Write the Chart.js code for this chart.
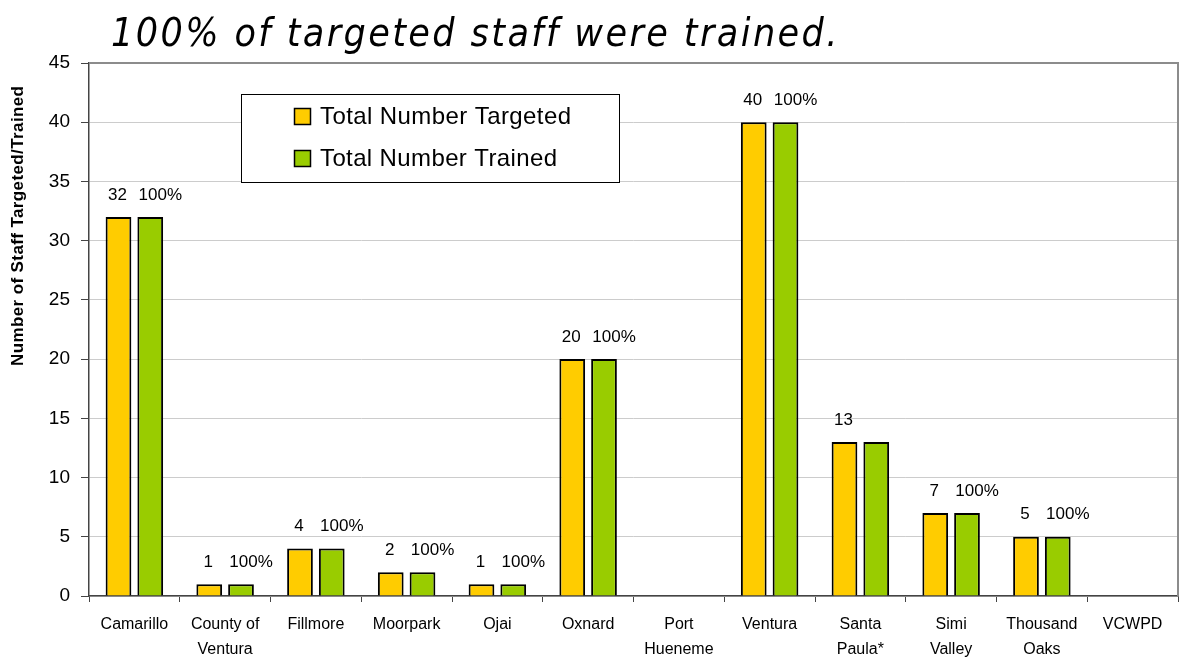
<!DOCTYPE html>
<html>
<head>
<meta charset="utf-8">
<title>Staff Training</title>
<script src="https://cdn.jsdelivr.net/npm/chart.js@4.4.1/dist/chart.umd.min.js"></script>
<style>
    html, body { margin: 0; padding: 0; background: #fff; }
    #chart { display: block; }
</style>
</head>
<body>
<canvas id="chart" width="1185" height="660"></canvas>
<script>
// Agencies along the x axis (multi-line labels)
const categories = [
    ['Camarillo'], ['County of', 'Ventura'], ['Fillmore'], ['Moorpark'], ['Ojai'],
    ['Oxnard'], ['Port', 'Hueneme'], ['Ventura'], ['Santa', 'Paula*'],
    ['Simi', 'Valley'], ['Thousand', 'Oaks'], ['VCWPD']
];
const targeted = [32, 1, 4, 2, 1, 20, null, 40, 13, 7, 5, null];
const trained = [32, 1, 4, 2, 1, 20, null, 40, 13, 7, 5, null];
const trainedPct = ['100%', '100%', '100%', '100%', '100%', '100%', '', '100%', '', '100%', '100%', ''];
const yMax = 45;
const yStep = 5;

const titleText = '100% of targeted staff were trained.';
const yTitleText = 'Number of Staff Targeted/Trained';
const FONT = '"Liberation Sans", Arial, sans-serif';

// draw text stretched to a given width with letter spacing
function fitText(ctx, text, x, y, width) {
    const w = ctx.measureText(text).width;
    ctx.letterSpacing = ((width - w) / (text.length - 1)) + 'px';
    ctx.fillText(text, x, y);
    ctx.letterSpacing = '0px';
}

// Title, axis title, plot frame, value labels and boxed legend
const decorations = {
    id: 'decorations',
    afterDatasetsDraw(chart) {
        const ctx = chart.ctx;
        const area = chart.chartArea;

        // gray frame on top and right of the plot
        ctx.save();
        ctx.strokeStyle = '#8c8c8c';
        ctx.lineWidth = 2;
        ctx.beginPath();
        ctx.moveTo(area.left, area.top);
        ctx.lineTo(area.right, area.top);
        ctx.lineTo(area.right, area.bottom);
        ctx.stroke();
        ctx.restore();

        // value labels above bars
        ctx.save();
        ctx.font = '17px ' + FONT;
        ctx.fillStyle = '#000';
        ctx.textAlign = 'center';
        ctx.textBaseline = 'middle';
        const m0 = chart.getDatasetMeta(0);
        const m1 = chart.getDatasetMeta(1);
        m0.data.forEach((bar, i) => {
            if (targeted[i] == null) return;
            ctx.fillText(String(targeted[i]), bar.x - 1, bar.y - 22);
        });
        m1.data.forEach((bar, i) => {
            if (!trainedPct[i]) return;
            ctx.fillText(trainedPct[i], bar.x + 10, bar.y - 22);
        });
        ctx.restore();
    },
    afterDraw(chart) {
        const ctx = chart.ctx;

        // italic headline
        ctx.save();
        ctx.font = 'italic 39px "Liberation Sans Narrow", "DejaVu Sans Condensed", sans-serif';
        ctx.fillStyle = '#000';
        ctx.textBaseline = 'alphabetic';
        ctx.textAlign = 'left';
        fitText(ctx, titleText, 111, 46, 727);
        ctx.restore();

        // y axis title
        ctx.save();
        ctx.translate(18, 226);
        ctx.rotate(-Math.PI / 2);
        ctx.font = 'bold 17px ' + FONT;
        ctx.fillStyle = '#000';
        ctx.textAlign = 'left';
        ctx.textBaseline = 'middle';
        fitText(ctx, yTitleText, -140, 0, 280);
        ctx.restore();

        // legend box
        const box = { x: 241, y: 94, w: 378, h: 88 };
        ctx.save();
        ctx.fillStyle = '#fff';
        ctx.fillRect(box.x, box.y, box.w, box.h);
        ctx.strokeStyle = '#000';
        ctx.lineWidth = 1;
        ctx.strokeRect(box.x + 0.5, box.y + 0.5, box.w, box.h);
        ctx.font = '24px ' + FONT;
        ctx.textBaseline = 'middle';
        ctx.textAlign = 'left';
        const widths = [251, 237];
        chart.data.datasets.forEach((ds, i) => {
            const cy = 116 + i * 42;
            ctx.fillStyle = ds.backgroundColor;
            ctx.fillRect(294, cy - 8, 16, 16);
            ctx.strokeStyle = '#000';
            ctx.lineWidth = 1.5;
            ctx.strokeRect(294.5, cy - 7.5, 16, 16);
            ctx.fillStyle = '#000';
            fitText(ctx, ds.label, 320, cy + 1, widths[i]);
        });
        ctx.restore();
    }
};

const ctx = document.getElementById('chart').getContext('2d');
new Chart(ctx, {
    type: 'bar',
    data: {
        labels: categories,
        datasets: [{
            label: 'Total Number Targeted',
            data: targeted,
            backgroundColor: '#ffcc00',
            borderColor: '#000',
            borderWidth: 2,
            categoryPercentage: 0.70,
            barPercentage: 0.81
        }, {
            label: 'Total Number Trained',
            data: trained,
            backgroundColor: '#99cc00',
            borderColor: '#000',
            borderWidth: 2,
            categoryPercentage: 0.70,
            barPercentage: 0.81
        }]
    },
    options: {
        responsive: false,
        animation: false,
        layout: {
            padding: { top: 63, right: 7, bottom: 0, left: 0 }
        },
        plugins: {
            legend: { display: false },
            title: { display: false },
            tooltip: { enabled: false }
        },
        scales: {
            x: {
                grid: {
                    drawOnChartArea: false,
                    offset: true,
                    tickLength: 6,
                    tickColor: '#444'
                },
                border: { color: '#444', width: 1.5 },
                ticks: {
                    color: '#000',
                    font: { family: FONT, size: 16, lineHeight: 1.5625 },
                    padding: 10,
                    maxRotation: 0,
                    autoSkip: false
                },
                afterFit(scale) { scale.height = 64; }
            },
            y: {
                min: 0,
                max: yMax,
                grid: {
                    color: '#cccccc',
                    tickColor: '#444',
                    tickLength: 8
                },
                border: { color: '#444', width: 1.5 },
                ticks: {
                    stepSize: yStep,
                    color: '#000',
                    font: { family: FONT, size: 19 },
                    padding: 11
                },
                afterFit(scale) { scale.width = 89; }
            }
        }
    },
    plugins: [decorations]
});
</script>
</body>
</html>
